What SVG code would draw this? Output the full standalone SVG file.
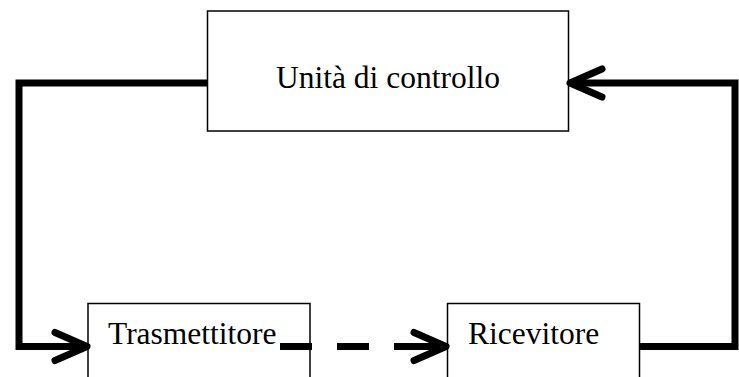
<svg xmlns="http://www.w3.org/2000/svg" width="739" height="377" viewBox="0 0 739 377">
  <style>
    .box { fill: #fff; stroke: #000; stroke-width: 1.5; }
    .lbl { font-family: "Liberation Serif", "Times New Roman", serif; font-size: 31.5px; fill: #000; }
    .wire { fill: none; stroke: #000; stroke-width: 7; stroke-linejoin: miter; }
    .dash { stroke-dasharray: 32 25 32 25 60; }
  </style>
  <defs>
    <marker id="chev" markerUnits="userSpaceOnUse" markerWidth="60" markerHeight="40" viewBox="-40 -20 60 40" refX="0" refY="0" orient="auto" overflow="visible">
      <path d="M-32,-14 L0,0 L-32,14" fill="none" stroke="#000" stroke-width="7" stroke-linecap="round" stroke-linejoin="round"/>
    </marker>
  </defs>
  <g id="unita">
    <rect class="box" x="207.5" y="11" width="361" height="120"/>
    <text class="lbl" x="276" y="88">Unità di controllo</text>
  </g>
  <g id="trasmettitore">
    <rect class="box" x="88" y="303.5" width="222" height="90"/>
    <text class="lbl" x="108" y="344">Trasmettitore</text>
  </g>
  <g id="ricevitore">
    <rect class="box" x="447.5" y="303.5" width="192" height="90"/>
    <text class="lbl" x="468" y="344">Ricevitore</text>
  </g>
  <g id="connectors">
    <path class="wire" d="M207,83 H19 V346.5 H87" marker-end="url(#chev)"/>
    <path class="wire dash" d="M280,346.5 H446" marker-end="url(#chev)"/>
    <path class="wire" d="M640,346.5 H735 V83 H570" marker-end="url(#chev)"/>
  </g>
</svg>
